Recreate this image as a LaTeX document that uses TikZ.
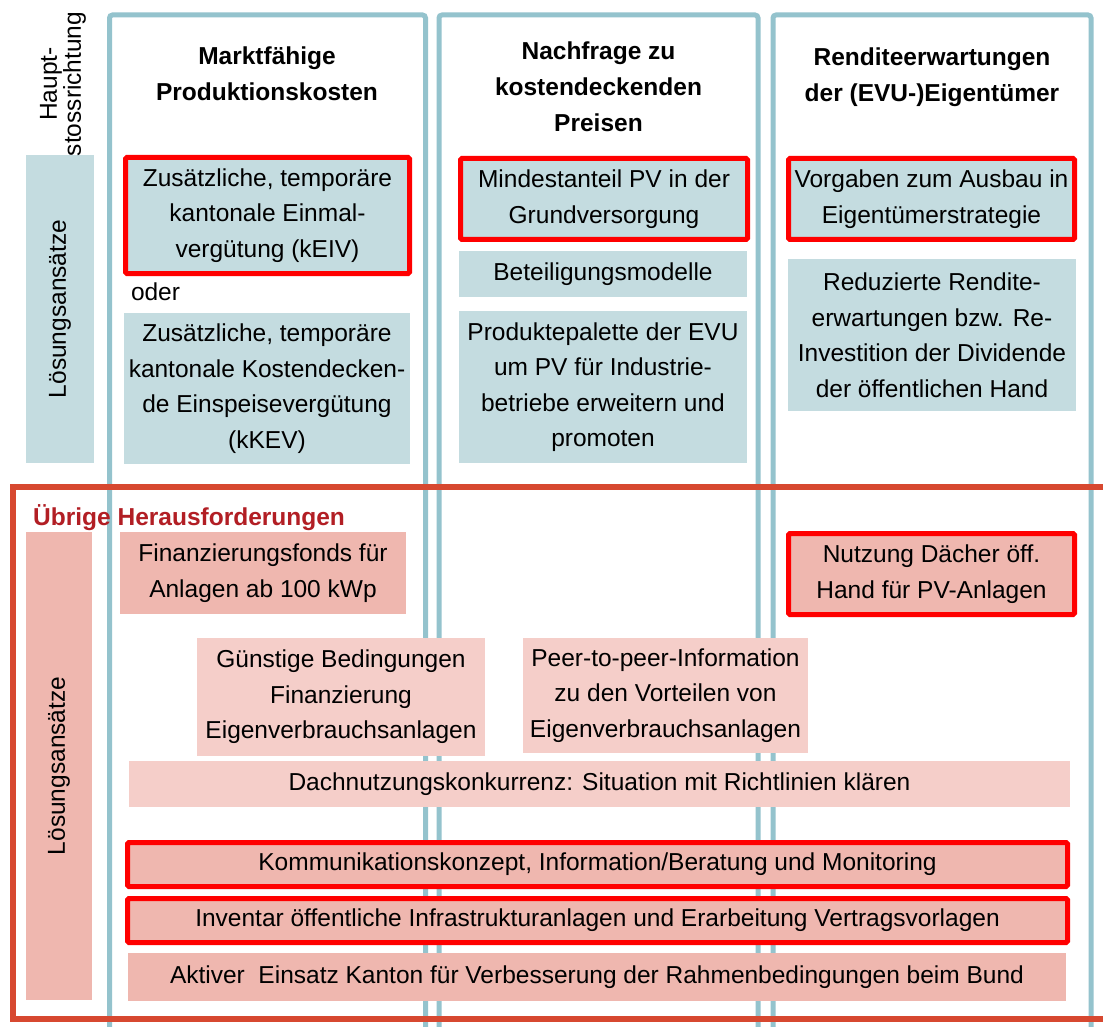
\documentclass[tikz,border=0pt]{standalone}
\usepackage{fontspec}
\setmainfont{Liberation Sans}
\definecolor{frameblue}{HTML}{94C3CD}
\definecolor{lblue}{HTML}{C4DCE0}
\definecolor{pinkd}{HTML}{EFB7AF}
\definecolor{pinkl}{HTML}{F5CEC9}
\definecolor{frameorange}{HTML}{D74830}
\definecolor{darkred}{HTML}{B21E24}
\definecolor{pured}{HTML}{FF0000}
\begin{document}
\begin{tikzpicture}[x=1pt,y=-1pt,
  txt/.style={font=\fontsize{24.5}{35.5}\selectfont, align=center, inner sep=0pt, outer sep=0pt, text=black},
  hdr/.style={font=\fontsize{24.5}{36}\selectfont\bfseries, align=center, inner sep=0pt},
  bluebox/.style={txt, fill=lblue},
  pinkbox/.style={txt, fill=pinkd},
  lightbox/.style={txt, fill=pinkl},
  redline/.style={draw=pured, line width=5pt, rounded corners=1.5pt},
  colframe/.style={draw=frameblue, line width=5pt, fill=white, rounded corners=3pt},
]
\useasboundingbox (0,0) rectangle (1103,1027);
\clip (0,0) rectangle (1103,1027);
\fill[white] (0,0) rectangle (1103,1027);
% column frames
\draw[colframe] (109.5,15) rectangle (425.5,1045);
\draw[colframe] (439,15) rectangle (758,1045);
\draw[colframe] (773,15) rectangle (1091,1045);
% big frame of the lower part
\draw[draw=frameorange, line width=6pt] (13,487) rectangle (1110,1019);
% side bars
\fill[lblue] (26,155) rectangle (94,463);
\fill[pinkd] (26,532) rectangle (92,1000);
\node[txt, rotate=90] (lab1) at (60,309) {Lösungsansätze};
\node[txt, rotate=90] (lab2) at (59,766) {Lösungsansätze};
\node[txt, rotate=90, font=\fontsize{24.5}{19}\selectfont] (haupt) at (63,84) {Haupt-\\stossrichtung};
% headers
\node[hdr] (h1) at (267,74) {Marktfähige\\Produktionskosten};
\node[hdr] (h2) at (598.5,87) {Nachfrage zu\\kostendeckenden\\Preisen};
\node[hdr] (h3) at (932,77) {Renditeerwartungen\\der (EVU-)Eigentümer};
% column 1
\node[bluebox, redline, minimum width=284, minimum height=116] (a) at (267.5,215.5) {Zusätzliche, temporäre\\kantonale Einmal-\\vergütung (kEIV)};
\node[txt, anchor=base west] (oder) at (131,300) {oder};
\node[bluebox, minimum width=286, minimum height=151] (b) at (267,388.5) {Zusätzliche, temporäre\\kantonale Kostendecken-\\de Einspeisevergütung\\(kKEV)};
% column 2
\node[bluebox, redline, minimum width=287, minimum height=81] (c) at (604,199) {Mindestanteil PV in der\\Grundversorgung};
\node[bluebox, minimum width=288, minimum height=46] (d) at (603,274) {Beteiligungsmodelle};
\node[bluebox, minimum width=288, minimum height=152] (e) at (603,387) {Produktepalette der EVU\\um PV für Industrie-\\betriebe erweitern und\\promoten};
% column 3
\node[bluebox, redline, minimum width=286, minimum height=81] (f) at (931.5,199) {Vorgaben zum Ausbau in\\Eigentümerstrategie};
\node[bluebox, minimum width=288, minimum height=152] (g) at (932,335) {Reduzierte Rendite-\\erwartungen bzw. Re-\\Investition der Dividende\\der öffentlichen Hand};
% lower part
\node[anchor=base west, inner sep=0pt, font=\fontsize{24.5}{30}\selectfont\bfseries, text=darkred] (ueb) at (33,525) {Übrige Herausforderungen};
\node[pinkbox, minimum width=286, minimum height=82] (hbox) at (263,573) {Finanzierungsfonds für\\Anlagen ab 100 kWp};
\node[pinkbox, redline, minimum width=286, minimum height=81] (ibox) at (931.5,574) {Nutzung Dächer öff.\\Hand für PV-Anlagen};
\node[lightbox, minimum width=288, minimum height=118] (jbox) at (341,697) {Günstige Bedingungen\\Finanzierung\\Eigenverbrauchsanlagen};
\node[lightbox, minimum width=285, minimum height=115] (kbox) at (665.5,695.5) {Peer-to-peer-Information\\zu den Vorteilen von\\Eigenverbrauchsanlagen};
\node[lightbox, minimum width=941, minimum height=46] (lbox) at (599.5,784) {Dachnutzungskonkurrenz: Situation mit Richtlinien klären};
\node[pinkbox, redline, minimum width=940, minimum height=44] (mbox) at (597.5,864.5) {Kommunikationskonzept, Information/Beratung und Monitoring};
\node[pinkbox, redline, minimum width=940, minimum height=44] (nbox) at (597.5,920.5) {Inventar öffentliche Infrastrukturanlagen und Erarbeitung Vertragsvorlagen};
\node[pinkbox, minimum width=938, minimum height=48] (obox) at (597,977) {Aktiver\ \ Einsatz Kanton für Verbesserung der Rahmenbedingungen beim Bund};
\end{tikzpicture}
\end{document}
